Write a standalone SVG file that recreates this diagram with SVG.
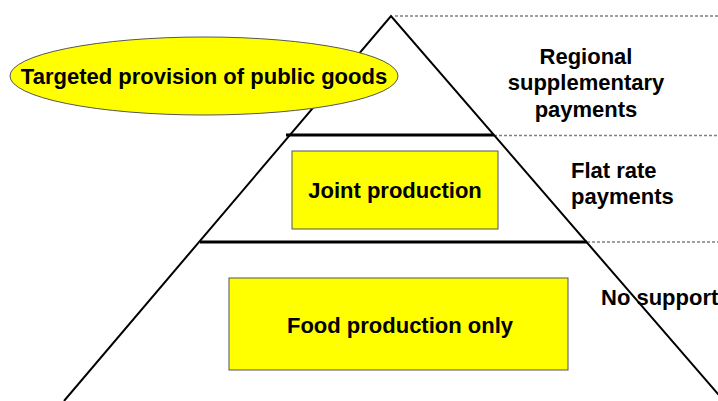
<svg xmlns="http://www.w3.org/2000/svg" width="718" height="401" viewBox="0 0 718 401">
<style>
.t{font-family:"Liberation Sans",Arial,sans-serif;font-weight:bold;fill:#000;font-size:22px}
.dash{stroke:#808080;stroke-width:1.3;stroke-dasharray:3,2;fill:none}
.box{fill:#ffff00;stroke:#555;stroke-width:1}
</style>
<rect width="718" height="401" fill="#fff"/>
<g id="connectors">
<line class="dash" x1="395" y1="16" x2="718" y2="16"/>
<line class="dash" x1="494" y1="135.5" x2="718" y2="135.5"/>
<line class="dash" x1="587" y1="242" x2="718" y2="242"/>
<path d="M64,401 L391,16 L724,401" fill="none" stroke="#000" stroke-width="2"/>
<line x1="286" y1="135" x2="494" y2="135" stroke="#000" stroke-width="3"/>
<line x1="200" y1="242" x2="587" y2="242" stroke="#000" stroke-width="3"/>
</g>
<g id="public-goods">
<ellipse cx="204" cy="76" rx="194" ry="39" class="box"/>
<text class="t" x="204" y="84" text-anchor="middle">Targeted provision of public goods</text>
</g>
<g id="joint-production">
<rect x="292" y="151" width="206" height="78" class="box"/>
<text class="t" x="395" y="198" text-anchor="middle">Joint production</text>
</g>
<g id="food-production">
<rect x="229" y="278" width="339" height="92" class="box"/>
<text class="t" x="400" y="333" text-anchor="middle">Food production only</text>
</g>
<g id="regional">
<text class="t" text-anchor="middle"><tspan x="586" y="64">Regional</tspan><tspan x="586" y="90">supplementary</tspan><tspan x="586" y="117">payments</tspan></text>
</g>
<g id="flat-rate">
<text class="t"><tspan x="571" y="178">Flat rate</tspan><tspan x="571" y="204">payments</tspan></text>
</g>
<g id="no-support">
<text class="t" x="601" y="305">No support</text>
</g>
</svg>
